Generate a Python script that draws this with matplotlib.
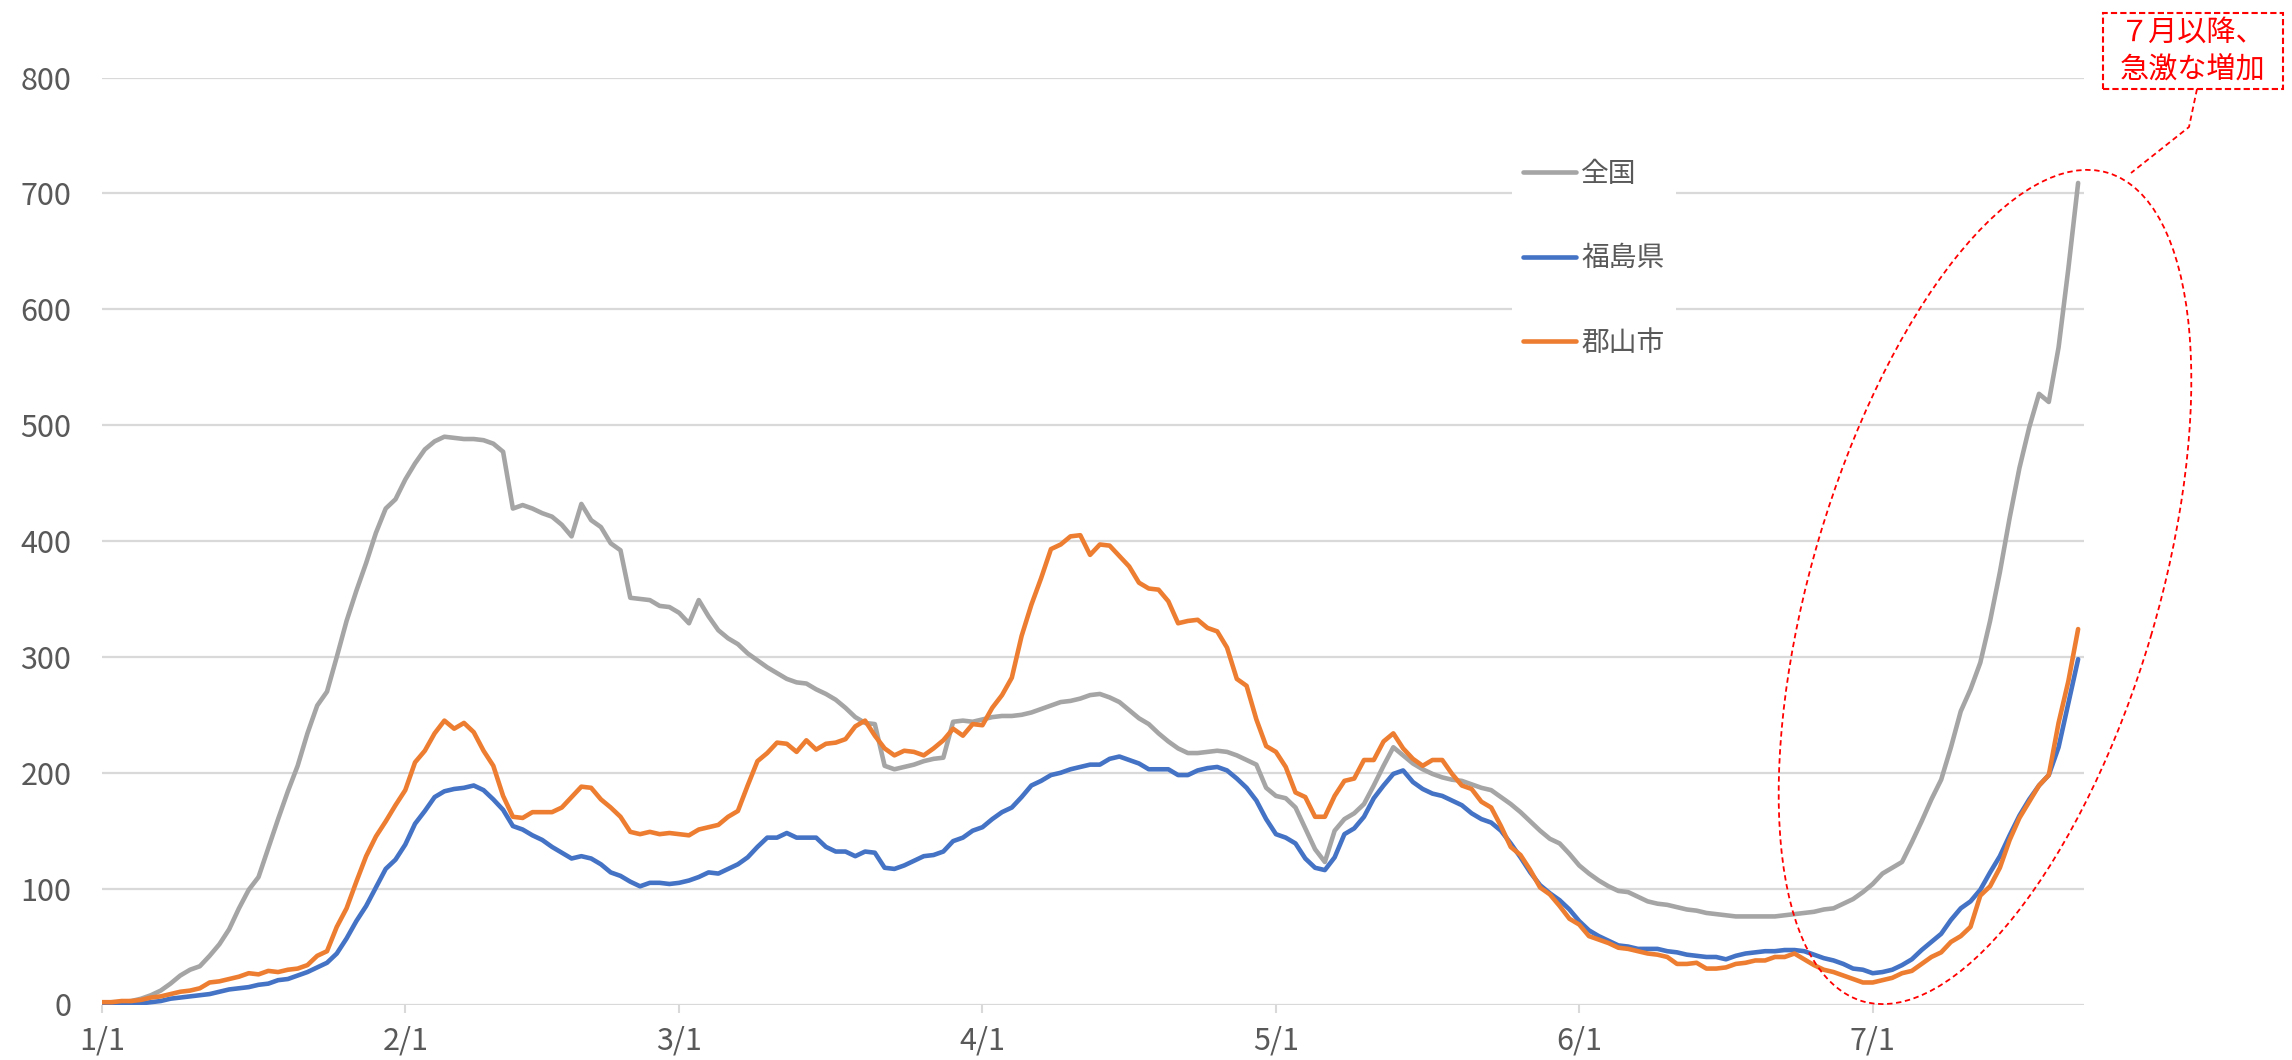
import numpy as np
import matplotlib.pyplot as plt
from matplotlib.patches import Ellipse, Rectangle
from matplotlib.lines import Line2D

plt.rcParams['font.family'] = ['Noto Sans CJK JP', 'DejaVu Sans']

# Data (1/1 - 7/22, daily) =================================
zenkoku = [
    1, 2, 2, 3, 5, 8, 12, 18, 25, 30,
    33, 42, 52, 65, 83, 99, 110, 135, 160, 184,
    206, 234, 258, 270, 300, 331, 357, 381, 407, 428,
    436, 453, 467, 479, 486, 490, 489, 488, 488, 487,
    484, 477, 428, 431, 428, 424, 421, 414, 404, 432,
    418, 412, 398, 392, 351, 350, 349, 344, 343, 338,
    329, 349, 335, 323, 316, 311, 303, 297, 291, 286,
    281, 278, 277, 272, 268, 263, 256, 248, 243, 242,
    206, 203, 205, 207, 210, 212, 213, 244, 245, 244,
    246, 248, 249, 249, 250, 252, 255, 258, 261, 262,
    264, 267, 268, 265, 261, 254, 247, 242, 234, 227,
    221, 217, 217, 218, 219, 218, 215, 211, 207, 187,
    180, 178, 170, 152, 134, 123, 150, 160, 165, 173,
    189, 206, 222, 215, 208, 203, 199, 196, 194, 193,
    190, 187, 185, 179, 173, 166, 158, 150, 143, 139,
    130, 120, 113, 107, 102, 98, 97, 93, 89, 87,
    86, 84, 82, 81, 79, 78, 77, 76, 76, 76,
    76, 76, 77, 78, 79, 80, 82, 83, 87, 91,
    97, 104, 113, 118, 123, 140, 158, 177, 194, 222,
    253, 272, 295, 331, 373, 420, 463, 498, 527, 520,
    567, 635, 709,
]
fukushima = [
    0, 0, 1, 1, 1, 2, 3, 5, 6, 7,
    8, 9, 11, 13, 14, 15, 17, 18, 21, 22,
    25, 28, 32, 36, 44, 57, 72, 85, 101, 117,
    125, 138, 156, 167, 179, 184, 186, 187, 189, 185,
    177, 168, 154, 151, 146, 142, 136, 131, 126, 128,
    126, 121, 114, 111, 106, 102, 105, 105, 104, 105,
    107, 110, 114, 113, 117, 121, 127, 136, 144, 144,
    148, 144, 144, 144, 136, 132, 132, 128, 132, 131,
    118, 117, 120, 124, 128, 129, 132, 141, 144, 150,
    153, 160, 166, 170, 179, 189, 193, 198, 200, 203,
    205, 207, 207, 212, 214, 211, 208, 203, 203, 203,
    198, 198, 202, 204, 205, 202, 195, 187, 176, 160,
    147, 144, 139, 126, 118, 116, 127, 147, 152, 162,
    178, 189, 199, 202, 192, 186, 182, 180, 176, 172,
    165, 160, 157, 150, 139, 127, 114, 103, 96, 90,
    82, 72, 64, 59, 55, 51, 50, 48, 48, 48,
    46, 45, 43, 42, 41, 41, 39, 42, 44, 45,
    46, 46, 47, 47, 46, 43, 40, 38, 35, 31,
    30, 27, 28, 30, 34, 39, 47, 54, 61, 73,
    83, 89, 99, 114, 128, 146, 163, 177, 189, 198,
    222, 260, 298,
]
koriyama = [
    2, 2, 3, 3, 4, 6, 7, 9, 11, 12,
    14, 19, 20, 22, 24, 27, 26, 29, 28, 30,
    31, 34, 42, 46, 67, 83, 106, 128, 145, 158,
    172, 185, 209, 219, 234, 245, 238, 243, 235, 219,
    206, 180, 162, 161, 166, 166, 166, 170, 179, 188,
    187, 177, 170, 162, 149, 147, 149, 147, 148, 147,
    146, 151, 153, 155, 162, 167, 189, 210, 217, 226,
    225, 218, 228, 220, 225, 226, 229, 240, 245, 232,
    221, 215, 219, 218, 215, 221, 228, 238, 232, 242,
    241, 256, 267, 282, 318, 345, 368, 393, 397, 404,
    405, 388, 397, 396, 387, 378, 364, 359, 358, 348,
    329, 331, 332, 325, 322, 308, 281, 275, 246, 223,
    218, 205, 183, 179, 162, 162, 180, 193, 195, 211,
    211, 227, 234, 221, 212, 206, 211, 211, 199, 189,
    186, 175, 170, 154, 136, 129, 116, 101, 95, 85,
    74, 69, 59, 56, 53, 49, 48, 46, 44, 43,
    41, 35, 35, 36, 31, 31, 32, 35, 36, 38,
    38, 41, 41, 44, 39, 34, 30, 28, 25, 22,
    19, 19, 21, 23, 27, 29, 35, 41, 45, 54,
    59, 67, 94, 102, 118, 142, 161, 175, 189, 198,
    243, 279, 324,
]
series_names = ['全国', '福島県', '郡山市']
series_colors = ['#A5A5A5', '#4472C4', '#ED7D31']
month_pos = [0, 31, 59, 90, 120, 151, 181]
month_labels = ['1/1', '2/1', '3/1', '4/1', '5/1', '6/1', '7/1']
yticks = list(range(0, 801, 100))
note_lines = ['７月以降、', '急激な増加']

# Plot =====================================================
W, H = 2292, 1060
fig = plt.figure(figsize=(W / 100, H / 100), dpi=100)
ax = fig.add_axes([102 / W, 1 - 1004.5 / H, (2084 - 102) / W, (1004.5 - 77.5) / H])

days = np.arange(len(zenkoku))
for vals, name, col in zip([zenkoku, fukushima, koriyama], series_names, series_colors):
    ax.plot(days, vals, color=col, lw=3.3, label=name,
            solid_capstyle='round', solid_joinstyle='round', zorder=3)

ax.set_xlim(0, 202.6)
ax.set_ylim(0, 800)
ax.set_yticks(yticks)
ax.set_xticks(month_pos)
ax.set_xticklabels(month_labels)
for s in ax.spines.values():
    s.set_visible(False)
ax.yaxis.grid(True, color='#D9D9D9', lw=1.6, zorder=0)
ax.set_axisbelow(True)
ax.tick_params(axis='y', length=0, pad=22, labelsize=22, labelcolor='#595959')
ax.tick_params(axis='x', length=6, width=1.5, color='#D9D9D9', pad=9,
               labelsize=22, labelcolor='#595959')

leg = ax.legend(loc='upper left', bbox_to_anchor=(1512 / W, 1 - 148 / H),
                bbox_transform=fig.transFigure, borderaxespad=0, fontsize=20,
                frameon=True, facecolor='white', edgecolor='none', framealpha=1,
                fancybox=False, handlelength=1.9, handletextpad=0.2,
                labelspacing=1.95, borderpad=0.4, labelcolor='#595959')

# annotation: dashed ellipse, connector, note box
inch = fig.dpi_scale_trans
red = '#FF0000'
fig.add_artist(Ellipse((19.85, 4.73), 8.64, 3.46, angle=73.5, fill=False,
                       edgecolor=red, lw=1.3, ls=(0, (3, 2)), transform=inch, zorder=10))
fig.add_artist(Line2D([21.97, 21.89, 21.31], [9.71, 9.33, 8.87], color=red,
                      lw=1.3, ls=(0, (3, 2)), transform=inch, zorder=10))
fig.add_artist(Rectangle((21.03, 9.71), 1.80, 0.76, facecolor='white',
                         edgecolor=red, lw=1.5, ls=(0, (3, 1.5)), transform=inch, zorder=10))
fig.text(21.93, 10.27, note_lines[0], transform=inch, color=red, fontsize=21,
         ha='center', va='center', zorder=11)
fig.text(21.93, 9.91, note_lines[1], transform=inch, color=red, fontsize=21,
         ha='center', va='center', zorder=11)

fig.savefig('out.png', dpi=100)
